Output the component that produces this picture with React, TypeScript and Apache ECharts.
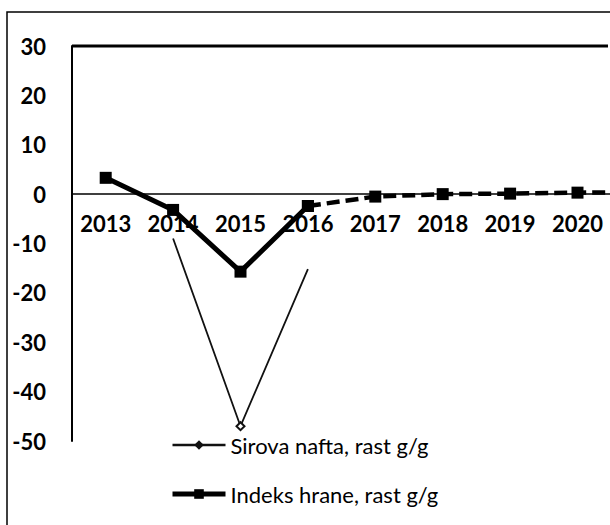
import React, { useEffect, useRef } from "react";
import * as echarts from "echarts";

const years = ["2013", "2014", "2015", "2016", "2017", "2018", "2019", "2020", "2021"];
const visibleYearLabels = 8; // the reference is cropped after 2020
const yTicks = { min: -50, max: 30, interval: 10 };
// Indeks hrane, rast g/g : actual part (solid) and forecast part (dashed)
const foodActual = [3.3, -3.2, -15.7, -2.4, null, null, null, null, null];
const foodForecast = [null, null, null, -2.4, -0.5, 0.0, 0.1, 0.3, 0.4];
// Sirova nafta, rast g/g (only the visible part)
const oil = [null, -9.0, -47.0, -15.2, null, null, null, null, null];

const FONT = "Lato, 'Open Sans', sans-serif";

export default function App() {
  const ref = useRef<HTMLDivElement>(null);
  useEffect(() => {
    if (!ref.current) return;
    const chart = echarts.init(ref.current, undefined, { renderer: "svg" });
    const oilData = oil.map((v, i) =>
      v === null ? null : { value: v, symbolSize: i === 2 ? 8 : 0, symbol: i === 2 ? "emptyDiamond" : "diamond" }
    );
    const gridTop = 46;
    const gridBottomY = 441;
    const zeroY = gridTop + ((gridBottomY - gridTop) * (yTicks.max - 0)) / (yTicks.max - yTicks.min);
    chart.setOption({
      animation: false,
      backgroundColor: "#fff",
      textStyle: { fontFamily: FONT },
      grid: {
        left: 72,
        top: gridTop,
        bottom: 525 - gridBottomY,
        right: -68.6,
        containLabel: false,
        outerBoundsMode: "none",
      },
      xAxis: {
        type: "category",
        data: years,
        boundaryGap: true,
        position: "bottom",
        offset: -(gridBottomY - zeroY),
        axisLine: { onZero: false, lineStyle: { color: "#000", width: 1.5 } },
        axisTick: { show: false },
        axisLabel: {
          color: "#000",
          fontSize: 22,
          fontWeight: "bold",
          fontFamily: FONT,
          margin: 18,
          interval: (index: number) => index < visibleYearLabels,
          hideOverlap: false,
        },
        splitLine: { show: false },
      },
      yAxis: {
        type: "value",
        min: yTicks.min,
        max: yTicks.max,
        interval: yTicks.interval,
        axisLine: { show: true, onZero: false, lineStyle: { color: "#000", width: 2 } },
        axisTick: { show: false },
        splitLine: { show: false },
        axisLabel: { color: "#000", fontSize: 22, fontWeight: "bold", fontFamily: FONT, margin: 26 },
      },
      legend: {
        orient: "vertical",
        left: 165,
        top: 429,
        itemWidth: 53,
        itemHeight: 12,
        itemGap: 27,
        textStyle: { color: "#000", fontSize: 22, fontFamily: FONT },
        data: [
          { name: "Sirova nafta, rast g/g", lineStyle: { width: 2.5 } },
          { name: "Indeks hrane, rast g/g", lineStyle: { width: 5 } },
        ],
      },
      graphic: [
        {
          type: "rect",
          shape: { x: 7, y: 12, width: 800, height: 700 },
          style: { fill: "none", stroke: "#000", lineWidth: 1.5 },
          silent: true,
        },
        {
          type: "line",
          shape: { x1: 72, y1: 46, x2: 608, y2: 46 },
          style: { stroke: "#000", lineWidth: 3 },
          silent: true,
        },
      ],
      series: [
        {
          name: "Sirova nafta, rast g/g",
          type: "line",
          data: oilData,
          symbol: "diamond",
          symbolSize: 10,
          connectNulls: false,
          lineStyle: { color: "#111", width: 1.8 },
          itemStyle: { color: "#111", borderColor: "#111" },
          z: 2,
        },
        {
          name: "Indeks hrane, rast g/g",
          type: "line",
          data: foodActual,
          symbol: "rect",
          symbolSize: 12,
          lineStyle: { color: "#000", width: 5 },
          itemStyle: { color: "#000" },
          z: 3,
        },
        {
          name: "Indeks hrane, rast g/g",
          type: "line",
          data: foodForecast,
          symbol: "rect",
          symbolSize: 12,
          lineStyle: { color: "#000", width: 4.5, type: [13, 6] },
          itemStyle: { color: "#000" },
          z: 3,
        },
      ],
    });
    return () => chart.dispose();
  }, []);
  return (
    <div
      ref={ref}
      style={{ position: "fixed", left: 0, top: 0, width: 610, height: 525, background: "#fff" }}
    />
  );
}
